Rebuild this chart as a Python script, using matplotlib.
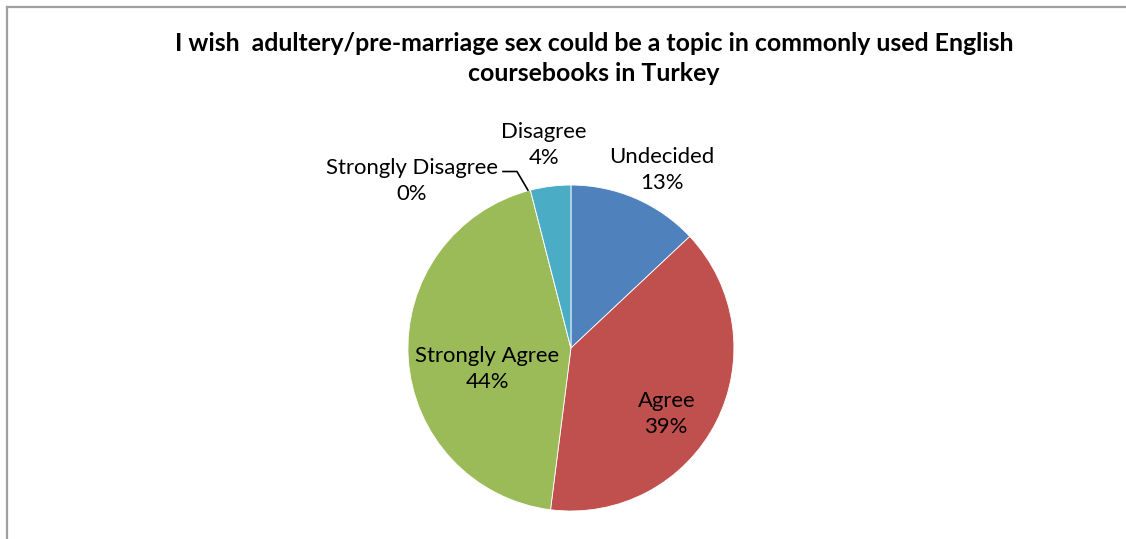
import matplotlib.pyplot as plt
from matplotlib.lines import Line2D

plt.rcParams['font.family'] = ['Lato', 'DejaVu Sans']

# survey answers, clockwise from 12 o'clock
labels = ['Undecided', 'Agree', 'Strongly Agree', 'Strongly Disagree', 'Disagree']
shares = [13, 39, 44, 0, 4]
colors = ['#4f81bd', '#c0504d', '#9bbb59', '#8064a2', '#4bacc6']

# where each label sits (axes data units, pie radius = 1)
label_pos = [(0.558, 1.092), (0.589, -0.405), (-0.515, -0.129), (-0.975, 1.025), (-0.166, 1.245)]

fig = plt.figure(figsize=(11.26, 5.39), dpi=100)
ax = fig.add_axes([0.3623, 0.0519, 0.2895, 0.6048])

wedges, _ = ax.pie(shares, colors=colors, startangle=90, counterclock=False,
                   radius=1, wedgeprops=dict(edgecolor='white', linewidth=0.6))
ax.set_xlim(-1, 1)
ax.set_ylim(-1, 1)
ax.set_aspect('equal')
ax.axis('off')

for name, val, (x, y) in zip(labels, shares, label_pos):
    ax.text(x, y, '%s\n%d%%' % (name, val), ha='center', va='center',
            fontsize=15.9, linespacing=1.42, clip_on=False)

# leader line for the empty slice
ax.plot([-0.417, -0.331, -0.264], [1.083, 1.083, 0.969], color='black', lw=1.2, clip_on=False)

fig.text(0.5275, 0.892, 'I wish  adultery/pre-marriage sex could be a topic in commonly used English\ncoursebooks in Turkey',
         ha='center', va='center', fontsize=17.9, fontweight='bold', linespacing=1.38)

# chart area frame (only top and left edges fall inside the image)
fig.add_artist(Line2D([0.0062, 0.0062], [0, 0.9870], transform=fig.transFigure, color='#a0a0a0', lw=1.6))
fig.add_artist(Line2D([0.0062, 1], [0.9870, 0.9870], transform=fig.transFigure, color='#a0a0a0', lw=1.6))

fig.savefig('out.png', dpi=100)
